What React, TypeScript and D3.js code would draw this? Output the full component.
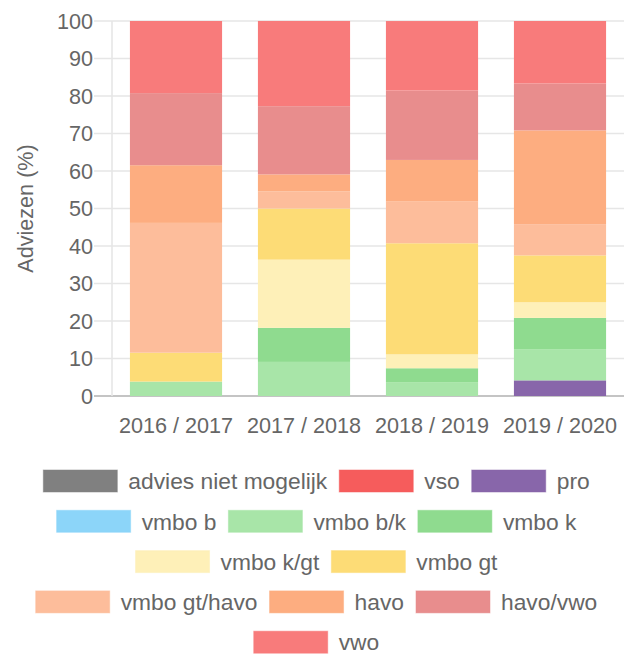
import React, { useMemo } from "react";
import * as d3 from "d3";

const categories = ["2016 / 2017", "2017 / 2018", "2018 / 2019", "2019 / 2020"];

const seriesNames = [
  "advies niet mogelijk",
  "vso",
  "pro",
  "vmbo b",
  "vmbo b/k",
  "vmbo k",
  "vmbo k/gt",
  "vmbo gt",
  "vmbo gt/havo",
  "havo",
  "havo/vwo",
  "vwo",
];

const seriesColors = [
  "#808080",
  "#F65C5C",
  "#8866AA",
  "#8CD5F9",
  "#A8E5A8",
  "#8FDB8F",
  "#FEF0B8",
  "#FDDC76",
  "#FDBD9B",
  "#FDAD80",
  "#E88D8D",
  "#F87B7B",
];

const adviesNietMogelijk = [0, 0, 0, 0];
const vso = [0, 0, 0, 0];
const pro = [0, 0, 0, 4.17];
const vmboB = [0, 0, 0, 0];
const vmboBK = [3.85, 9.09, 3.7, 8.33];
const vmboK = [0, 9.09, 3.7, 8.33];
const vmboKGT = [0, 18.18, 3.7, 4.17];
const vmboGT = [7.69, 13.64, 29.63, 12.5];
const vmboGTHavo = [34.62, 4.55, 11.11, 8.33];
const havo = [15.38, 4.55, 11.11, 25.0];
const havoVwo = [19.23, 18.18, 18.52, 12.5];
const vwo = [19.23, 22.73, 18.52, 16.67];

const seriesValues = [
  adviesNietMogelijk,
  vso,
  pro,
  vmboB,
  vmboBK,
  vmboK,
  vmboKGT,
  vmboGT,
  vmboGTHavo,
  havo,
  havoVwo,
  vwo,
];

const yTicks = [0, 10, 20, 30, 40, 50, 60, 70, 80, 90, 100];

const W = 630;
const H = 655;
const FONT = "'Liberation Sans', Arial, Helvetica, sans-serif";
const FS = 21.6;
const LFS = 22.8;
const TEXT = "#666666";

export default function App() {
  const x = d3
    .scaleBand<string>()
    .domain(categories)
    .range([112, 624])
    .paddingInner(0.28)
    .paddingOuter(0.14);
  const y = d3.scaleLinear().domain([0, 100]).range([396, 21]);

  const rows = categories.map((c, i) => {
    const r: any = { cat: c };
    seriesNames.forEach((s, j) => (r[s] = seriesValues[j][i]));
    return r;
  });
  const stacked = d3.stack<any>().keys(seriesNames)(rows);

  const legendLayout = useMemo(() => {
    const canvas = document.createElement("canvas");
    const ctx = canvas.getContext("2d")!;
    ctx.font = `${LFS}px ${FONT}`;
    const boxW = 74;
    const gap = 11;
    const pad = 12;
    const maxW = 598;
    const items = seriesNames.map((n, i) => ({
      name: n,
      color: seriesColors[i],
      w: boxW + gap + ctx.measureText(n).width,
    }));
    const lines: { items: typeof items; width: number }[] = [];
    let cur: typeof items = [];
    let curW = 0;
    items.forEach((it) => {
      const add = cur.length ? pad + it.w : it.w;
      if (cur.length && curW + add + pad > maxW) {
        lines.push({ items: cur, width: curW });
        cur = [it];
        curW = it.w;
      } else {
        cur.push(it);
        curW += add;
      }
    });
    if (cur.length) lines.push({ items: cur, width: curW });
    const cx = 316.5;
    const out: any[] = [];
    lines.forEach((ln, li) => {
      let xx = cx - ln.width / 2;
      const cy = 481 + li * 40.3;
      ln.items.forEach((it) => {
        out.push({ ...it, x: xx, cy, boxW, gap });
        xx += it.w + pad;
      });
    });
    return out;
  }, []);

  return (
    <svg
      width={W}
      height={H}
      style={{ position: "absolute", left: 0, top: 0, background: "#fff" }}
      fontFamily={FONT}
    >
      {yTicks.map((t) => (
        <line
          key={"g" + t}
          x1={94}
          x2={624}
          y1={y(t)}
          y2={y(t)}
          stroke={t === 0 ? "#c4c4c4" : "#e6e6e6"}
          strokeWidth={t === 0 ? 1.8 : 1.6}
        />
      ))}
      <line x1={112} x2={112} y1={y(100)} y2={y(0)} stroke="#e6e6e6" strokeWidth={1.6} />
      {yTicks.map((t) => (
        <text
          key={"t" + t}
          x={93}
          y={y(t)}
          dy="0.36em"
          textAnchor="end"
          fontSize={FS}
          fill={TEXT}
        >
          {t}
        </text>
      ))}
      <text
        transform={`translate(33,${(y(0) + y(100)) / 2}) rotate(-90)`}
        textAnchor="middle"
        fontSize={FS}
        fill={TEXT}
      >
        Adviezen (%)
      </text>
      {stacked.map((layer, j) => (
        <g key={layer.key} fill={seriesColors[j]}>
          {layer.map((d, i) =>
            d[1] - d[0] > 0 ? (
              <rect
                key={i}
                x={x(categories[i])!}
                width={x.bandwidth()}
                y={y(d[1])}
                height={y(d[0]) - y(d[1])}
              />
            ) : null
          )}
        </g>
      ))}
      {categories.map((c) => (
        <text
          key={c}
          x={x(c)! + x.bandwidth() / 2}
          y={433.3}
          textAnchor="middle"
          fontSize={FS}
          fill={TEXT}
        >
          {c}
        </text>
      ))}
      {legendLayout.map((it: any) => (
        <g key={it.name}>
          <rect
            x={it.x}
            y={it.cy - 11}
            width={it.boxW}
            height={22}
            fill={it.color}
            stroke={it.color}
            strokeOpacity={0.5}
            strokeWidth={1}
          />
          <text
            x={it.x + it.boxW + it.gap}
            y={it.cy}
            dy="0.36em"
            fontSize={LFS}
            fill={TEXT}
          >
            {it.name}
          </text>
        </g>
      ))}
    </svg>
  );
}
